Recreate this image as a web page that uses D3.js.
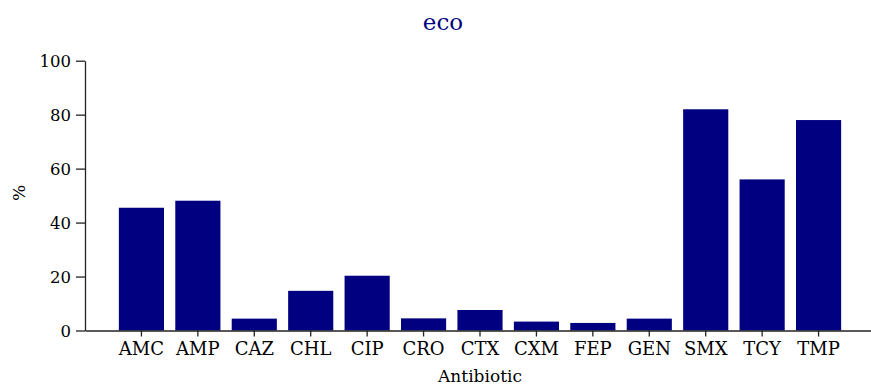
<!DOCTYPE html>
<html><head><meta charset="utf-8">
<script src="https://cdn.jsdelivr.net/npm/d3@7"></script>
<style>body{margin:0;background:#fff}svg{display:block}</style>
</head><body><svg id="c" width="871" height="385"></svg>
<script>
const categories = ["AMC","AMP","CAZ","CHL","CIP","CRO","CTX","CXM","FEP","GEN","SMX","TCY","TMP"];
const values = [45.5,48.1,4.4,14.7,20.3,4.5,7.6,3.3,2.8,4.4,82.0,56.0,78.0];
const yTicks = [0,20,40,60,80,100];
const title = "eco", xTitle = "Antibiotic", yTitle = "%";
const FONT = "DejaVu Serif";

const svg = d3.select("#c");
const x = d3.scaleBand().domain(categories).range([85, 875]).paddingInner(0.2).paddingOuter(0.6);
const y = d3.scaleLinear().domain([0,100]).range([330.5, 60.7]);

svg.selectAll("rect.bar").data(categories).enter().append("rect")
  .attr("x", d => x(d)).attr("width", x.bandwidth())
  .attr("y", (d,i) => y(values[i])).attr("height", (d,i) => y(0) - y(values[i]))
  .attr("fill", "#000080");

const ya = svg.append("g").attr("transform","translate(85,0)")
  .call(d3.axisLeft(y).tickValues(yTicks).tickSize(9).tickSizeOuter(0));
ya.attr("font-family", FONT).attr("font-size", 16.5);
ya.selectAll("text").attr("fill","#000").attr("x",-14).attr("dy","0.36em");
ya.selectAll("line,path").attr("stroke","#222").attr("stroke-width",1.3);

const xa = svg.append("g").attr("transform",`translate(0,${y(0)})`)
  .call(d3.axisBottom(x).tickSize(6).tickSizeOuter(0));
xa.attr("font-family", FONT).attr("font-size", 18);
xa.selectAll("text").attr("fill","#000").attr("y",0).attr("dy",24.5);
xa.selectAll("line,path").attr("stroke","#222").attr("stroke-width",1.3);

svg.append("text").attr("x",443).attr("y",30).attr("text-anchor","middle")
  .attr("font-family", FONT).attr("font-size",23).attr("fill","#000080").text(title);
svg.append("text").attr("x",480).attr("y",381.5).attr("text-anchor","middle")
  .attr("font-family", FONT).attr("font-size",17).attr("fill","#000").text(xTitle);
svg.append("text").attr("transform","translate(25,193) rotate(-90)").attr("text-anchor","middle")
  .attr("font-family", FONT).attr("font-size",17).attr("fill","#000").text(yTitle);
</script></body></html>
